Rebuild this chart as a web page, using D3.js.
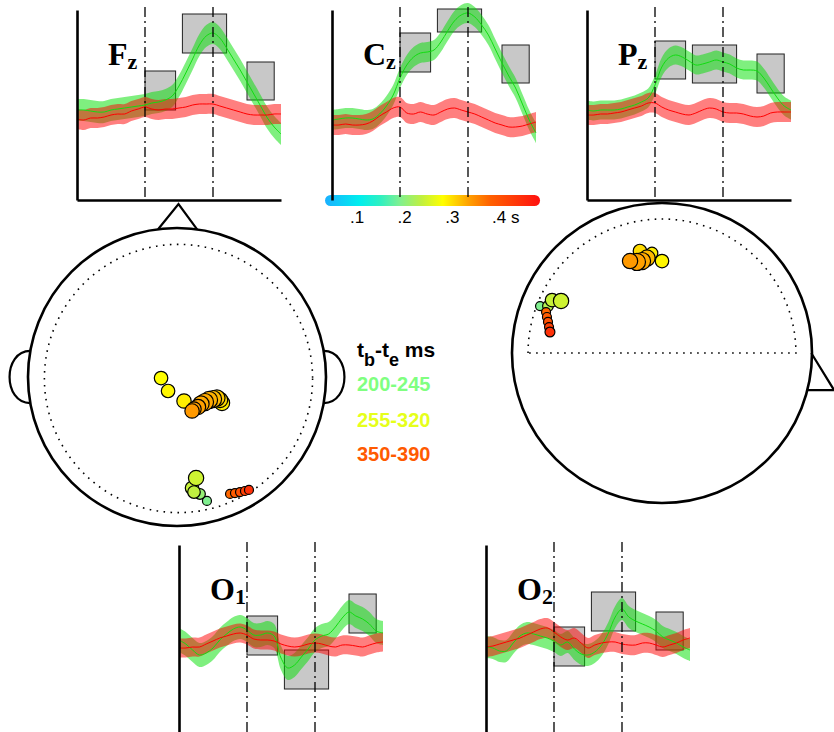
<!DOCTYPE html>
<html>
<head>
<meta charset="utf-8">
<script src="https://cdn.jsdelivr.net/npm/d3@7"></script>
<style>
body { margin: 0; background: #fff; }
svg { display: block; }
</style>
</head>
<body>
<div id="chart"></div>
<script>
var width = 834;
var height = 732;

// sample times of the averaged traces (ms) and the two marker lines
var times = d3.range(100, 401, 10);
var markers = [200, 300];
var windows = [[200, 245], [255, 320], [350, 390]];
var windowLabels = ["200-245", "255-320", "350-390"];
var windowColors = ["#80ff80", "#e6ff1a", "#ff5a00"];

// mean amplitude (uV), green = condition A, red = condition B
var fzGreen = [0.0,0.0,-0.1,-0.2,-0.2,0.0,0.1,0.2,0.3,0.4,0.5,0.7,0.8,1.0,1.4,2.4,3.7,5.1,6.5,7.4,7.7,7.2,6.2,5.1,4.0,2.8,1.6,0.4,-0.8,-1.7,-2.4];
var fzRed = [-0.9,-1.0,-0.8,-0.8,-0.7,-0.5,-0.4,-0.4,-0.1,0.1,0.3,0.1,0.0,0.1,0.1,0.2,0.3,0.5,0.6,0.6,0.6,0.4,0.2,0.0,-0.2,-0.4,-0.5,-0.5,-0.5,-0.4,-0.4];
var czGreen = [-1.0,-0.9,-0.8,-0.8,-0.9,-1.0,-0.9,-0.4,0.4,1.5,3.2,4.5,5.3,5.7,5.8,6.0,6.8,7.9,8.9,9.5,9.7,9.3,8.5,7.5,6.1,4.7,3.4,2.2,0.6,-1.0,-2.3];
var czRed = [-1.5,-1.5,-1.4,-1.5,-1.5,-1.4,-1.1,-0.6,-0.2,0.2,0.3,-0.3,-0.4,-0.2,-0.4,-0.5,-0.2,0.1,0.2,0.0,-0.2,-0.4,-0.7,-1.0,-1.3,-1.5,-1.7,-1.7,-1.6,-1.4,-1.2];
var pzGreen = [0.0,-0.1,0.0,0.0,0.0,0.1,0.3,0.5,0.8,1.2,2.5,4.3,5.2,5.5,5.3,4.9,4.5,4.6,4.8,5.0,4.8,4.6,4.2,4.0,4.0,3.9,3.2,2.2,1.2,0.4,0.0];
var pzRed = [-0.5,-0.5,-0.4,-0.4,-0.3,-0.2,0.0,0.2,0.4,0.7,0.7,0.3,0.0,-0.2,-0.4,-0.5,-0.3,0.0,0.2,0.1,-0.2,-0.3,-0.3,-0.4,-0.6,-0.7,-0.6,-0.3,-0.2,-0.2,-0.2];
var o1Green = [0.5,0.1,-0.5,-1.0,-0.8,-0.3,0.5,1.1,1.6,1.8,1.5,1.0,1.0,1.2,0.9,-1.3,-2.3,-2.0,-1.2,-0.4,0.5,0.9,1.1,1.8,2.7,3.3,2.9,2.6,2.1,1.4,1.2];
var o1Red = [-0.3,-0.3,-0.2,-0.2,0.1,0.4,0.7,0.9,1.1,1.2,1.0,0.6,0.5,0.5,0.4,0.1,-0.1,-0.2,-0.1,0.1,0.2,0.1,-0.1,-0.2,0.0,0.0,-0.1,-0.2,0.0,0.2,0.3];
var o2Green = [-0.2,-0.3,-0.6,-0.6,0.2,0.9,1.2,1.1,0.9,0.7,0.4,0.0,0.3,-0.4,-0.9,-1.0,-0.7,0.0,1.2,2.8,3.6,2.8,2.4,2.1,1.8,1.4,0.8,0.5,0.2,-0.2,-0.5];
var o2Red = [-0.2,-0.1,0.1,0.3,0.5,0.7,1.0,1.3,1.6,1.7,1.3,0.8,0.5,0.7,0.2,-0.3,0.0,0.2,0.3,0.3,0.1,0.0,0.0,0.2,0.2,0.0,-0.2,0.0,0.2,0.5,0.7];

// half width of the shaded bands (uV)
var semGreen = [1.1, 1.0, 0.95, 1.2, 1.1];
var semRed = [1.0, 1.0, 1.0, 0.95, 1.0];

// amplitude range [low, high] of the grey boxes, one per time window
var fzBoxes = [[0.0, 3.9], [5.7, 9.6], [1.0, 4.8]];
var czBoxes = [[3.8, 7.7], [7.8, 10.1], [2.7, 6.5]];
var pzBoxes = [[3.1, 6.9], [2.7, 6.5], [1.7, 5.6]];
var o1Boxes = [[-1.0, 2.9], [-4.4, -0.5], [1.2, 5.1]];
var o2Boxes = [[-2.1, 1.8], [1.4, 5.3], [-0.5, 3.3]];

// dipoles: [x, y in head radii, time (s), moment]
var topDipoles = [
  [-0.107,-0.007,0.28,7.5],[-0.060,-0.094,0.285,7.5],[0.047,-0.161,0.29,8],
  [0.302,-0.174,0.29,8.5],[0.289,-0.154,0.30,8.5],[0.268,-0.141,0.31,9],[0.242,-0.148,0.32,9.5],
  [0.215,-0.154,0.325,9.5],[0.188,-0.168,0.33,9.5],[0.161,-0.181,0.33,9],[0.141,-0.201,0.335,8.5],
  [0.114,-0.215,0.335,8],[0.101,-0.228,0.34,8],
  [0.201,-0.832,0.19,5],[0.154,-0.785,0.205,6],[0.101,-0.745,0.24,7.5],[0.114,-0.772,0.235,7],[0.128,-0.678,0.245,8.5],
  [0.356,-0.785,0.375,5],[0.389,-0.779,0.385,5],[0.423,-0.772,0.40,5],[0.456,-0.765,0.42,5],[0.483,-0.758,0.44,5]
];
var sideDipoles = [
  [0.0,0.613,0.285,7.5],[-0.067,0.667,0.29,6.5],[-0.147,0.68,0.30,7.5],[-0.1,0.633,0.32,9],
  [-0.133,0.613,0.33,9.5],[-0.167,0.607,0.335,9.5],[-0.213,0.613,0.34,8.5],
  [-0.813,0.313,0.19,5],[-0.76,0.313,0.225,6],[-0.733,0.353,0.24,7.5],[-0.673,0.347,0.245,8.5],
  [-0.773,0.273,0.375,5],[-0.767,0.24,0.385,5],[-0.76,0.207,0.40,5],[-0.753,0.173,0.42,5],[-0.747,0.14,0.44,5.5]
];

// colour map (time in s)
var cmapT = [0.033, 0.105, 0.15, 0.19, 0.235, 0.28, 0.335, 0.38, 0.484];
var cmapC = ["#1ab0ff", "#00eeee", "#30f0c0", "#80f090", "#c0f040", "#ffff00", "#ffa000", "#ff6000", "#ff1010"];
var cbTicks = [0.1, 0.2, 0.3, 0.4];
var cbLabels = [".1", ".2", ".3", ".4 s"];

var color = d3.scaleLinear().domain(cmapT).range(cmapC).clamp(true);
var size = d3.scaleLinear().domain([0, 10]).range([0, 9]);

var svg = d3.select("#chart").append("svg")
  .attr("width", width)
  .attr("height", height);

// colour bar
var cbX = d3.scaleLinear().domain([0.1, 0.4]).range([357, 500]);
var grad = svg.append("defs").append("linearGradient").attr("id", "cbar");
grad.selectAll("stop")
  .data(cmapT)
  .enter()
  .append("stop")
    .attr("offset", function(d) { return (d - cmapT[0]) / (cmapT[cmapT.length - 1] - cmapT[0]); })
    .attr("stop-color", function(d, i) { return cmapC[i]; });
svg.append("rect")
  .attr("x", cbX(cmapT[0]))
  .attr("y", 195)
  .attr("width", cbX(cmapT[cmapT.length - 1]) - cbX(cmapT[0]))
  .attr("height", 11)
  .attr("rx", 5.5)
  .attr("fill", "url(#cbar)");
svg.selectAll(".cblab")
  .data(cbTicks)
  .enter()
  .append("text")
  .attr("class", "cblab")
  .text(function(d, i) { return cbLabels[i]; })
    .attr("x", function(d, i) { return i < 3 ? cbX(d) : cbX(d) - 8; })
    .attr("y", 223)
    .attr("text-anchor", function(d, i) { return i < 3 ? "middle" : "start"; })
    .attr("font-family", "Liberation Sans, Arial, sans-serif")
    .attr("font-size", "17px");

// panels
var panelW = 204;
var layout = {
  Fz: { x: 77, top: 10, bottom: 200, base: true },
  Cz: { x: 332, top: 10, bottom: 200, base: false },
  Pz: { x: 587, top: 10, bottom: 200, base: true },
  O1: { x: 179, top: 545, bottom: 735, base: true },
  O2: { x: 486, top: 545, bottom: 735, base: true }
};

var drawPanel = function(name, sub, green, red, boxes, semG, semR) {
  var L = layout[name];
  var x = d3.scaleLinear().domain([100, 400]).range([L.x, L.x + panelW]);
  var y = d3.scaleLinear().domain([-9, 10]).range([L.bottom, L.top]);
  var g = svg.append("g");

  g.selectAll("rect")
    .data(boxes)
    .enter()
    .append("rect")
      .attr("x", function(d, i) { return x(windows[i][0]); })
      .attr("y", function(d) { return y(d[1]); })
      .attr("width", function(d, i) { return x(windows[i][1]) - x(windows[i][0]); })
      .attr("height", function(d) { return y(d[0]) - y(d[1]); })
      .attr("fill", "#c8c8c8")
      .attr("stroke", "#222")
      .attr("stroke-width", 1);

  var band = function(sem) {
    return d3.area()
      .x(function(d, i) { return x(times[i]); })
      .y0(function(d) { return y(d - sem); })
      .y1(function(d) { return y(d + sem); })
      .curve(d3.curveCatmullRom);
  };
  var line = d3.line()
    .x(function(d, i) { return x(times[i]); })
    .y(function(d) { return y(d); })
    .curve(d3.curveCatmullRom);

  g.append("path").attr("d", band(semG)(green)).attr("fill", "#00e000").attr("fill-opacity", 0.5);
  g.append("path").attr("d", band(semR)(red)).attr("fill", "#ff0000").attr("fill-opacity", 0.5);
  g.append("path").attr("d", line(green)).attr("fill", "none").attr("stroke", "#10dd10").attr("stroke-width", 1);
  g.append("path").attr("d", line(red)).attr("fill", "none").attr("stroke", "#ff0000").attr("stroke-width", 1);

  g.selectAll(".mk")
    .data(markers)
    .enter()
    .append("line")
      .attr("x1", function(d) { return x(d); })
      .attr("x2", function(d) { return x(d); })
      .attr("y1", L.top - 3)
      .attr("y2", L.bottom)
      .attr("stroke", "#000")
      .attr("stroke-width", 1.3)
      .attr("stroke-dasharray", "10,4,2,4");

  var ay = g.append("g")
    .attr("transform", "translate(" + L.x + ",0)")
    .call(d3.axisLeft(y).ticks(0).tickSizeOuter(0));
  ay.select(".domain").attr("stroke", "#000").attr("stroke-width", 2.6);
  if (L.base) {
    var ax = g.append("g")
      .attr("transform", "translate(0," + L.bottom + ")")
      .call(d3.axisBottom(x).ticks(0).tickSizeOuter(0));
    ax.select(".domain").attr("stroke", "#000").attr("stroke-width", 2.6);
  }

  var t = g.append("text")
    .attr("x", L.x + 31)
    .attr("y", L.top + 55)
    .attr("font-family", "Liberation Serif, Times New Roman, serif")
    .attr("font-weight", "bold")
    .attr("font-size", "32px")
    .text(name.charAt(0));
  t.append("tspan")
    .attr("dy", 4)
    .attr("font-size", "22px")
    .text(sub);
};

drawPanel("Fz", "z", fzGreen, fzRed, fzBoxes, semGreen[0], semRed[0]);
drawPanel("Cz", "z", czGreen, czRed, czBoxes, semGreen[1], semRed[1]);
drawPanel("Pz", "z", pzGreen, pzRed, pzBoxes, semGreen[2], semRed[2]);
drawPanel("O1", "1", o1Green, o1Red, o1Boxes, semGreen[3], semRed[3]);
drawPanel("O2", "2", o2Green, o2Red, o2Boxes, semGreen[4], semRed[4]);

// heads
var headScales = function(cx, cy, r) {
  return {
    x: d3.scaleLinear().domain([-1, 1]).range([cx - r, cx + r]),
    y: d3.scaleLinear().domain([-1, 1]).range([cy + r, cy - r]),
    r: r
  };
};

var drawDipoles = function(h, list) {
  svg.append("g").selectAll("circle")
    .data(list)
    .enter()
    .append("circle")
      .attr("cx", function(d) { return h.x(d[0]); })
      .attr("cy", function(d) { return h.y(d[1]); })
      .attr("r", function(d) { return size(d[3]); })
      .attr("fill", function(d) { return color(d[2]); })
      .attr("stroke", "#000")
      .attr("stroke-width", 1.2);
};

// top view
var h1 = headScales(177, 377, 149);
var lineGen = d3.line().x(function(d) { return h1.x(d[0]); }).y(function(d) { return h1.y(d[1]); });
svg.append("path")
  .attr("d", lineGen([[-0.127, 0.992], [0.01, 1.16], [0.135, 0.991]]))
  .attr("fill", "none").attr("stroke", "#000").attr("stroke-width", 2.2);
[-1, 1].forEach(function(s) {
  var p = d3.path();
  p.moveTo(h1.x(s * 0.985), h1.y(0.175));
  p.bezierCurveTo(h1.x(s * 1.17), h1.y(0.175), h1.x(s * 1.17), h1.y(-0.175), h1.x(s * 0.985), h1.y(-0.175));
  svg.append("path").attr("d", p.toString()).attr("fill", "none").attr("stroke", "#000").attr("stroke-width", 2.2);
});
svg.append("circle")
  .attr("cx", h1.x(0)).attr("cy", h1.y(0)).attr("r", h1.r)
  .attr("fill", "none").attr("stroke", "#000").attr("stroke-width", 2.6);
svg.append("circle")
  .attr("cx", h1.x(0.01)).attr("cy", h1.y(-0.01)).attr("r", h1.r * 0.9)
  .attr("fill", "none").attr("stroke", "#000").attr("stroke-width", 1.6)
  .attr("stroke-dasharray", "1.6,5.4");
drawDipoles(h1, topDipoles);

// side view
var h2 = headScales(662, 353, 150);
var lineGen2 = d3.line().x(function(d) { return h2.x(d[0]); }).y(function(d) { return h2.y(d[1]); });
svg.append("path")
  .attr("d", lineGen2([[0.995, 0.0], [1.147, -0.247], [0.967, -0.247]]))
  .attr("fill", "none").attr("stroke", "#000").attr("stroke-width", 2.2);
svg.append("circle")
  .attr("cx", h2.x(0)).attr("cy", h2.y(0)).attr("r", h2.r)
  .attr("fill", "none").attr("stroke", "#000").attr("stroke-width", 2.6);
var dome = d3.path();
dome.moveTo(h2.x(-0.893), h2.y(0));
dome.arc(h2.x(0), h2.y(0), h2.r * 0.893, Math.PI, 2 * Math.PI);
dome.closePath();
svg.append("path")
  .attr("d", dome.toString())
  .attr("fill", "none").attr("stroke", "#000").attr("stroke-width", 1.6)
  .attr("stroke-dasharray", "1.6,5.4");
drawDipoles(h2, sideDipoles);

// legend
var legend = svg.append("g")
  .attr("font-family", "Liberation Sans, Arial, sans-serif")
  .attr("font-weight", "bold");
var head = legend.append("text")
  .attr("x", 357).attr("y", 357)
  .attr("font-size", "21px")
  .text("t");
head.append("tspan").attr("dy", 9).attr("font-size", "18px").text("b");
head.append("tspan").attr("dy", -9).text("-t");
head.append("tspan").attr("dy", 9).attr("font-size", "18px").text("e");
head.append("tspan").attr("dy", -9).text(" ms");
legend.selectAll(".win")
  .data(windowLabels)
  .enter()
  .append("text")
  .attr("class", "win")
  .text(function(d) { return d; })
    .attr("x", 357)
    .attr("y", function(d, i) { return [391, 427, 461][i]; })
    .attr("font-size", "20px")
    .attr("fill", function(d, i) { return windowColors[i]; });
</script>
</body>
</html>
